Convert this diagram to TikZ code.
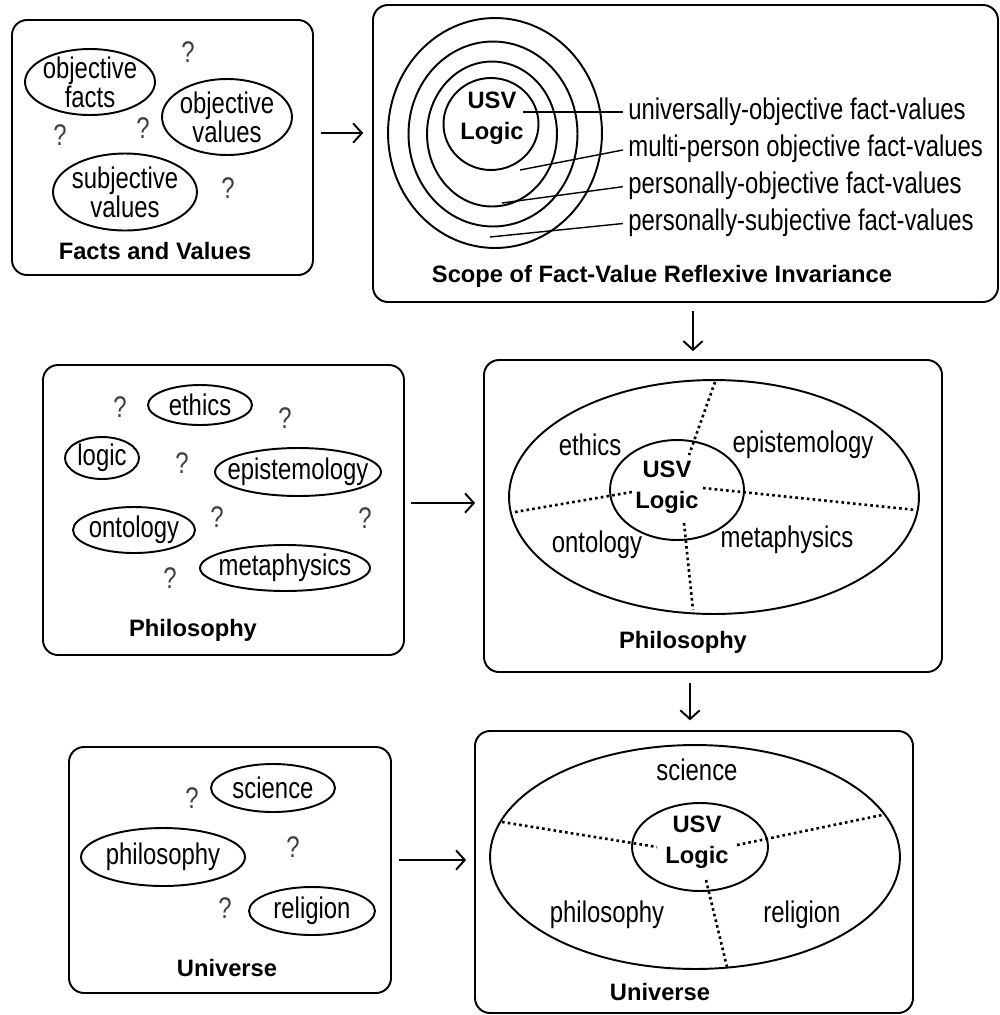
\documentclass[tikz,border=0pt]{standalone}
\usepackage{fontspec}
\setmainfont{Liberation Sans}
\newfontfamily\narrowsans{Liberation Sans}[FakeStretch=0.8]
\usetikzlibrary{arrows.meta,shapes.geometric,fit}

\tikzset{
  panel/.style={draw, line width=1.1pt, rounded corners=3mm, inner sep=0pt},
  ell/.style 2 args={ellipse, draw, line width=1.1pt, minimum width=#1*0.2mm,
    minimum height=#2*0.2mm, inner sep=0pt},
  txt/.style={font=\narrowsans\fontsize{17}{16.5}\selectfont, align=center, inner sep=0pt},
  ttl/.style={font=\fontsize{13.5}{17.5}\selectfont\bfseries, align=center, inner sep=0pt},
  ques/.style={font=\narrowsans\fontsize{17}{16.5}\selectfont, text=black!75, inner sep=0pt},
  arr/.style={-{Straight Barb[length=5pt,width=11pt]}, line width=1.1pt},
  dots/.style={line width=1.5pt, dash pattern=on 1.5pt off 1.8pt},
  lead/.style={line width=0.8pt, shorten >=3pt},
}

\begin{document}
\begin{tikzpicture}[x=0.02cm, y=-0.02cm]
\useasboundingbox (0,0) rectangle (1000,1015);

% the six panels
\node[panel, fit={(12,20) (313,275)}] (facts) {};
\node[panel, fit={(373,5) (998,302)}] (scope) {};
\node[panel, fit={(43,365) (404,655)}] (philA) {};
\node[panel, fit={(484,360) (942,672)}] (philB) {};
\node[panel, fit={(69,747) (391,993)}] (univA) {};
\node[panel, fit={(475,731) (913,1013)}] (univB) {};

% facts and values
\node[ell={130}{66}, label={[txt]center:objective\\facts}] (objf) at (90,82) {};
\node[ell={130}{76}, label={[txt]center:objective\\values}] (objv) at (227,117) {};
\node[ell={144}{77}, label={[txt]center:subjective\\values}] (subv) at (125,192) {};
\node[ques] (fq1) at (188,52) {?};
\node[ques] (fq2) at (60,135) {?};
\node[ques] (fq3) at (143,128) {?};
\node[ques] (fq4) at (228,188) {?};
\node[ttl] (factslbl) at (155,251) {Facts and Values};

% scope of invariance
\node[ell={214}{230}] (ring4) at (495,133) {};
\node[ell={169}{185}] (ring3) at (493,134) {};
\node[ell={130}{145}] (ring2) at (492,134) {};
\node[ell={95}{92}] (ring1) at (491,124) {};
\node[ttl] (usvA) at (492,118) {USV\\Logic};
\node[txt, anchor=west] (t1) at (628,112) {universally-objective fact-values};
\node[txt, anchor=west] (t2) at (628,149) {multi-person objective fact-values};
\node[txt, anchor=west] (t3) at (628,186) {personally-objective fact-values};
\node[txt, anchor=west] (t4) at (628,223) {personally-subjective fact-values};
\coordinate (l1) at (523,112);
\coordinate (l2) at (520,170);
\coordinate (l3) at (502,203);
\coordinate (l4) at (490,237);
\draw[lead] (l1) -- (t1.west);
\draw[lead] (l2) -- (t2.west);
\draw[lead] (l3) -- (t3.west);
\draw[lead] (l4) -- (t4.west);
\node[ttl] (scopelbl) at (662,276) {Scope of Fact-Value Reflexive Invariance};

% philosophy, scattered
\node[ell={104}{40}, label={[txt]center:ethics}] (ethA) at (200,405) {};
\node[ell={74}{42}, label={[txt]center:logic}] (logA) at (102,458) {};
\node[ell={166}{48}, label={[txt]center:epistemology}] (epiA) at (298,472) {};
\node[ell={122}{46}, label={[txt]center:ontology}] (ontA) at (134,530) {};
\node[ell={170}{46}, label={[txt]center:metaphysics}] (metA) at (285,568) {};
\node[ques] (pq1) at (120,407) {?};
\node[ques] (pq2) at (285,418) {?};
\node[ques] (pq3) at (182,463) {?};
\node[ques] (pq4) at (217,517) {?};
\node[ques] (pq5) at (365,518) {?};
\node[ques] (pq6) at (170,578) {?};
\node[ttl] (philAlbl) at (193,630) {Philosophy};

% philosophy, ordered
\node[ell={410}{234}] (philell) at (714,497) {};
\node[ell={134}{100}] (usvell) at (677,490) {};
\node[ttl] (usvB) at (667,487) {USV\\Logic};
\node[txt] (ethB) at (590,445) {ethics};
\node[txt] (epiB) at (803,445) {epistemology};
\node[txt] (ontB) at (597,545) {ontology};
\node[txt] (metB) at (787,540) {metaphysics};
\coordinate (d1) at (715,382); \coordinate (d2) at (689,455);
\coordinate (d3) at (515,512); \coordinate (d4) at (632,492);
\coordinate (d5) at (703,488); \coordinate (d6) at (916,510);
\coordinate (d7) at (684,523); \coordinate (d8) at (693,610);
\draw[dots] (d1) -- (d2);
\draw[dots] (d3) -- (d4);
\draw[dots] (d5) -- (d6);
\draw[dots] (d7) -- (d8);
\node[ttl] (philBlbl) at (683,642) {Philosophy};

% universe, scattered
\node[ell={124}{48}, label={[txt]center:science}] (sciA) at (273,788) {};
\node[ell={164}{58}, label={[txt]center:philosophy}] (phiA) at (163,857) {};
\node[ell={126}{48}, label={[txt]center:religion}] (relA) at (312,911) {};
\node[ques] (uq1) at (192,798) {?};
\node[ques] (uq2) at (293,847) {?};
\node[ques] (uq3) at (225,908) {?};
\node[ttl] (univAlbl) at (227,968) {Universe};

% universe, ordered
\node[ell={410}{224}] (univell) at (695,857) {};
\node[ell={136}{88}] (usvell2) at (700,847) {};
\node[ttl] (usvC) at (697,842) {USV\\Logic};
\node[txt] (sciB) at (697,770) {science};
\node[txt] (phiB) at (607,915) {philosophy};
\node[txt] (relB) at (802,915) {religion};
\coordinate (e1) at (502,822); \coordinate (e2) at (657,847);
\coordinate (e3) at (737,845); \coordinate (e4) at (882,815);
\coordinate (e5) at (706,880); \coordinate (e6) at (727,967);
\draw[dots] (e1) -- (e2);
\draw[dots] (e3) -- (e4);
\draw[dots] (e5) -- (e6);
\node[ttl] (univBlbl) at (660,992) {Universe};

% arrows between panels
\coordinate (a1) at (340,133);
\coordinate (a2) at (693,330);
\coordinate (a3) at (440,503);
\coordinate (a4) at (690,700);
\coordinate (a5) at (430,860);
\draw[arr, shorten <=4pt, shorten >=5pt] (facts.east |- a1) -- (scope.west |- a1);
\draw[arr, shorten <=4.5pt, shorten >=4.5pt] (scope.south -| a2) -- (philB.north -| a2);
\draw[arr, shorten <=3.5pt, shorten >=4.5pt] (philA.east |- a3) -- (philB.west |- a3);
\draw[arr, shorten <=5.5pt, shorten >=5.5pt] (philB.south -| a4) -- (univB.north -| a4);
\draw[arr, shorten <=4pt, shorten >=4.5pt] (univA.east |- a5) -- (univB.west |- a5);
\end{tikzpicture}
\end{document}
